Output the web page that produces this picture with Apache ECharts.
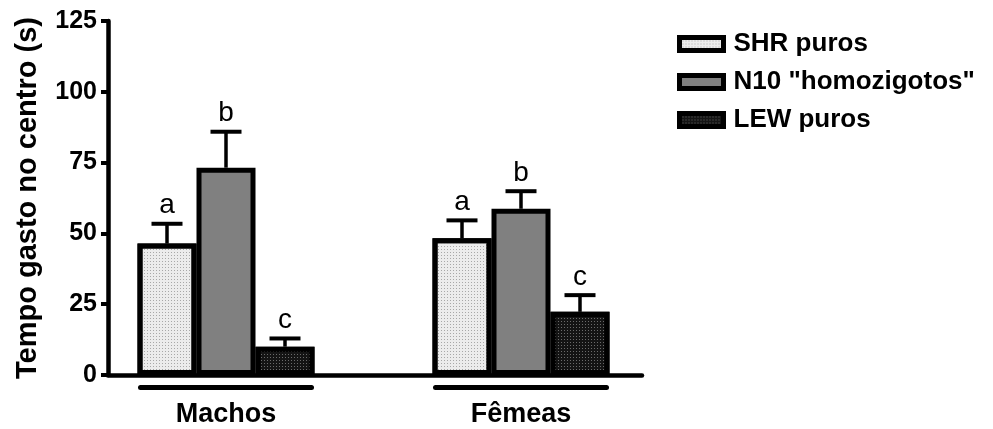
<!DOCTYPE html>
<html>
<head>
<meta charset="utf-8">
<script src="https://cdn.jsdelivr.net/npm/echarts@6/dist/echarts.min.js"></script>
<style>
  html, body { margin: 0; padding: 0; background: #fff; }
  #chart { width: 993px; height: 429px; }
</style>
</head>
<body>
<div id="chart"></div>
<script>
var categories = ['Machos', 'Fêmeas'];
var seriesNames = ['SHR puros', 'N10 "homozigotos"', 'LEW puros'];
var shrMean = [46.4, 48.3];
var shrErr = [7.0, 6.3];
var n10Mean = [73.2, 58.7];
var n10Err = [12.7, 6.2];
var lewMean = [10.0, 22.3];
var lewErr = [2.9, 5.9];
var letters = ['a', 'b', 'c'];
var yTicks = [0, 25, 50, 75, 100, 125];

var font = 'Liberation Sans';
var barW = 59;

var fills = [
    {color: '#ececec', decal: {symbol: 'rect', symbolSize: 1, dashArrayX: [1, 2], dashArrayY: [1, 2], color: '#a8a8a8'}},
    {color: '#808080', decal: null},
    {color: '#141414', decal: {symbol: 'rect', symbolSize: 1, dashArrayX: [1, 2], dashArrayY: [1, 2], color: '#6a6a6a'}}
];

var means = [shrMean, n10Mean, lewMean];
var errs = [shrErr, n10Err, lewErr];

function errorSeries(k) {
    var data = categories.map(function (c, i) {
        return [i, means[k][i], errs[k][i]];
    });
    return {
        name: 'err' + k,
        type: 'custom',
        xAxisIndex: 1,
        yAxisIndex: 1,
        z: 5,
        silent: true,
        data: data,
        renderItem: function (params, api) {
            var base = api.coord([api.value(0), api.value(1)]);
            var top = api.coord([api.value(0), api.value(1) + api.value(2)]);
            var x = base[0] + (k - 1) * barW;
            return {
                type: 'group',
                children: [
                    {type: 'line', shape: {x1: x, y1: base[1], x2: x, y2: top[1]},
                        style: {stroke: '#000', lineWidth: 3.5}},
                    {type: 'line', shape: {x1: x - 15.5, y1: top[1], x2: x + 15.5, y2: top[1]},
                        style: {stroke: '#000', lineWidth: 4}},
                    {type: 'text', style: {text: letters[k], x: x, y: top[1] - 4,
                        align: 'center', verticalAlign: 'bottom',
                        font: '28px ' + font, fill: '#000'}}
                ]
            };
        }
    };
}

var chart = echarts.init(document.getElementById('chart'));

var series = [];
for (var k = 0; k < 3; k++) {
    var style = {
        color: fills[k].color,
        borderColor: '#000',
        borderWidth: 5
    };
    if (fills[k].decal) {
        style.decal = fills[k].decal;
    }
    series.push({
        name: seriesNames[k],
        type: 'bar',
        xAxisIndex: 1,
        yAxisIndex: 1,
        barWidth: barW,
        barGap: '0%',
        data: means[k],
        itemStyle: style
    });
}
for (var k = 0; k < 3; k++) {
    series.push(errorSeries(k));
}

var option = {
    backgroundColor: '#fff',
    animation: false,
    legend: {
        data: seriesNames,
        orient: 'vertical',
        left: 677,
        top: 31,
        padding: 0,
        icon: 'rect',
        itemWidth: 44,
        itemHeight: 13,
        itemGap: 12,
        itemStyle: {borderColor: '#000', borderWidth: 5},
        textStyle: {
            fontFamily: font,
            fontWeight: 'bold',
            fontSize: 26,
            lineHeight: 26,
            color: '#000',
            padding: [0, 0, 0, 5]
        }
    },
    grid: [
        {left: 108, top: 21, right: 351, bottom: 54},
        {left: 78.5, top: 21, width: 590, bottom: 54}
    ],
    xAxis: [
        {
            gridIndex: 0,
            type: 'value',
            min: 0,
            max: 1,
            axisLine: {lineStyle: {color: '#000', width: 4.5}},
            axisTick: {show: false},
            axisLabel: {show: false},
            splitLine: {show: false}
        },
        {
            gridIndex: 1,
            type: 'category',
            data: categories,
            axisLine: {show: false},
            axisTick: {show: false},
            axisLabel: {
                margin: 10,
                formatter: function (v) {
                    return '{l|}\n{n|' + v + '}';
                },
                rich: {
                    l: {width: 176, height: 5, lineHeight: 5, backgroundColor: '#000', borderRadius: 2.5},
                    n: {fontFamily: font, fontWeight: 'bold', fontSize: 27, lineHeight: 49, color: '#000'}
                }
            }
        }
    ],
    yAxis: [
        {
            gridIndex: 0,
            type: 'value',
            min: 0,
            max: 125,
            interval: 25,
            name: 'Tempo gasto no centro (s)',
            nameLocation: 'middle',
            nameGap: 66,
            nameTextStyle: {fontFamily: font, fontWeight: 'bold', fontSize: 29, color: '#000'},
            axisLine: {show: true, lineStyle: {color: '#000', width: 4.5}},
            axisTick: {show: true, length: 7, lineStyle: {color: '#000', width: 4}},
            axisLabel: {
                margin: 11,
                fontFamily: font,
                fontWeight: 'bold',
                fontSize: 25,
                color: '#000',
                formatter: function (v) {
                    return yTicks.indexOf(v) >= 0 ? String(v) : '';
                }
            },
            splitLine: {show: false}
        },
        {
            gridIndex: 1,
            type: 'value',
            min: 0,
            max: 125,
            show: false
        }
    ],
    series: series
};

chart.setOption(option);
window.addEventListener('resize', function () {
    chart.resize();
});
</script>
</body>
</html>
